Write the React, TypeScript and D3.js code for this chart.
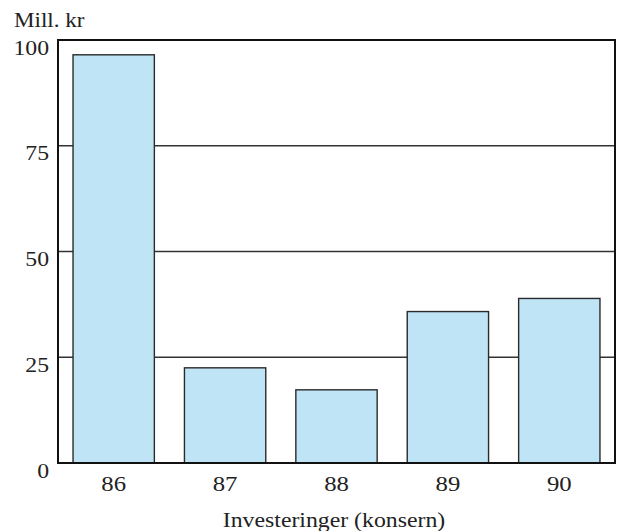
import React from "react";
import * as d3 from "d3";

const years = ["86", "87", "88", "89", "90"];
const values = [96.5, 22.5, 17.3, 35.8, 38.9];
const yTicks = [0, 25, 50, 75, 100];
const yUnit = "Mill. kr";
const xTitle = "Investeringer (konsern)";

const W = 617;
const H = 531;
const margin = { left: 58, right: 2, top: 40, bottom: 68 };
const font = "'Liberation Serif', 'Times New Roman', serif";

function T(props: { x: number; y: number; anchor?: string; sx?: number; fs?: number; children: React.ReactNode }) {
  const { x, y, anchor = "start", sx = 1.2, fs = 20, children } = props;
  return (
    <text
      transform={`translate(${x},${y}) scale(${sx},1)`}
      textAnchor={anchor}
      fontSize={fs}
      fill="#222"
    >
      {children}
    </text>
  );
}

export default function App() {
  const x = d3
    .scaleBand<string>()
    .domain(years)
    .range([margin.left, W - margin.right])
    .paddingInner(0.27)
    .paddingOuter(0.135);
  const y = d3.scaleLinear().domain([0, 100]).range([H - margin.bottom, margin.top]);
  const x0 = margin.left;
  const x1 = W - margin.right;
  return (
    <svg
      width={W}
      height={H}
      style={{ position: "absolute", left: 0, top: 0, background: "#fff" }}
      fontFamily={font}
    >
      {yTicks
        .filter((t) => t > 0 && t < 100)
        .map((t) => (
          <line key={t} x1={x0} x2={x1} y1={y(t)} y2={y(t)} stroke="#333" strokeWidth={1.4} />
        ))}
      {values.map((v, i) => (
        <rect
          key={years[i]}
          x={x(years[i])}
          y={y(v)}
          width={x.bandwidth()}
          height={y(0) - y(v)}
          fill="#bfe4f6"
          stroke="#2a2a2a"
          strokeWidth={1.4}
        />
      ))}
      <path
        d={`M${x0},${y(0)}V${y(100)}H${x1}V${y(0)}Z`}
        fill="none"
        stroke="#111"
        strokeWidth={2}
      />
      {yTicks.map((t) => (
        <T key={t} x={49} y={y(t) + 14.5} anchor="end" fs={22} sx={1.08}>
          {t}
        </T>
      ))}
      {years.map((yr) => (
        <T key={yr} x={(x(yr) as number) + x.bandwidth() / 2} y={491} anchor="middle" fs={21} sx={1.18}>
          {yr}
        </T>
      ))}
      <T x={14} y={27} fs={21} sx={1.1}>
        {yUnit}
      </T>
      <T x={334} y={527} anchor="middle" fs={20.5} sx={1.16}>
        {xTitle}
      </T>
    </svg>
  );
}
